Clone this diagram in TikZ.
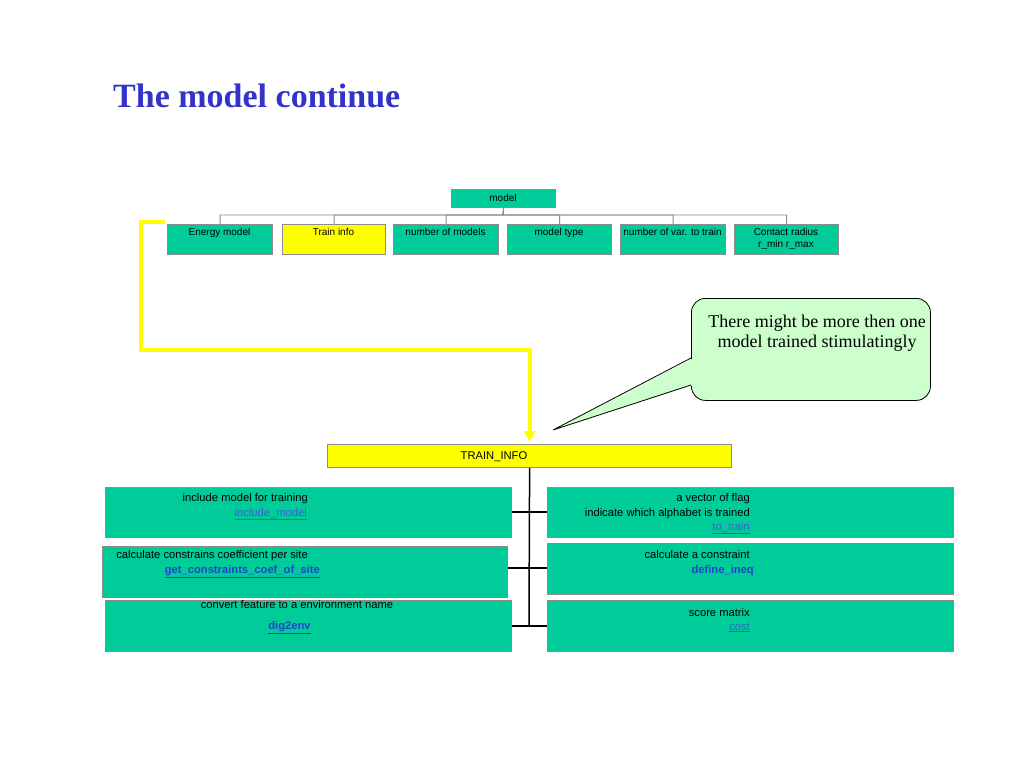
\documentclass[tikz,border=0pt]{standalone}
\usepackage{fontspec}
\setmainfont{Liberation Serif}
\setsansfont{Liberation Sans}
\usetikzlibrary{arrows.meta}
\definecolor{boxgreen}{HTML}{00CC99}
\definecolor{boxgray}{HTML}{8C8C8C}
\definecolor{titleblue}{HTML}{3333CC}
\definecolor{linkblue}{HTML}{3366CC}
\definecolor{boldblue}{HTML}{2244CC}
\definecolor{calloutgreen}{HTML}{CCFFCC}
\definecolor{hlyellow}{HTML}{FFFF00}
\begin{document}
\begin{tikzpicture}[x=1pt,y=-1pt,
  box/.style={draw=boxgray, line width=1.2pt, fill=boxgreen, anchor=north west, inner sep=0pt},
  ybox/.style={box, fill=hlyellow},
  small/.style={font=\sffamily\fontsize{10}{12}\selectfont, inner sep=0pt},
  txt/.style={font=\sffamily\fontsize{11.2}{13}\selectfont, inner sep=0pt},
  link/.style={txt, text=linkblue},
  blink/.style={txt, text=boldblue, font=\sffamily\bfseries\fontsize{11.2}{13}\selectfont},
  ctext/.style={anchor=base, inner sep=0pt, font=\fontsize{18}{20}\selectfont},
  tree/.style={draw=boxgray, line width=0.8pt},
  branch/.style={draw=black, line width=1.5pt},
  hl/.style={draw=hlyellow, line width=4pt},
]
\useasboundingbox (0,0) rectangle (1024,768);
\fill[white] (0,0) rectangle (1024,768);

% title
\node[anchor=base west, inner sep=0pt, text=titleblue,
      font=\bfseries\fontsize{34}{38}\selectfont] (title) at (113,107) {The model continue};

% top tree
\node[box, minimum width=104pt, minimum height=18pt] (model) at (451,189) {};
\node[small, anchor=base] (modelt) at (503,201.5) {model};

\node[box,  minimum width=105pt, minimum height=30pt] (c1) at (167,224) {};
\node[ybox, minimum width=103pt, minimum height=30pt] (c2) at (282,224) {};
\node[box,  minimum width=105pt, minimum height=30pt] (c3) at (393,224) {};
\node[box,  minimum width=104pt, minimum height=30pt] (c4) at (507,224) {};
\node[box,  minimum width=105pt, minimum height=30pt] (c5) at (620,224) {};
\node[box,  minimum width=104pt, minimum height=30pt] (c6) at (734,224) {};

\node[small, anchor=base] (c1t) at (219.5,235.5) {Energy model};
\node[small, anchor=base] (c2t) at (333.5,235.5) {Train info};
\node[small, anchor=base] (c3t) at (445.5,235.5) {number of models};
\node[small, anchor=base] (c4t) at (559,235.5) {model type};
\node[small, anchor=base] (c5t) at (672.5,235.5) {number of var. to train};
\node[small, anchor=base] (c6t) at (786,235.5) {Contact radius};
\node[small, anchor=base] (c6u) at (786,247.5) {r\_min r\_max};

\coordinate (bus) at (503,215);
\foreach \c in {c1,c2,c3,c4,c5,c6}{
  \draw[tree] (model.south) -- (bus) -| (\c.north);
}

% TRAIN_INFO
\node[ybox, minimum width=404pt, minimum height=23pt] (ti) at (327,444) {};
\node[txt, anchor=base] (tit) at (494,459) {TRAIN\_INFO};

% yellow connector
\coordinate (ys) at (165,222);
\coordinate (yc1) at (141,222);
\coordinate (yc2) at (141,350);
\draw[hl, -{Triangle[length=11pt,width=11pt]}, shorten >=2pt] (ys) -- (yc1) -- (yc2) -| (ti.north);

% left boxes
\node[box, minimum width=406pt, minimum height=50pt] (l1) at (105,487) {};
\node[box, minimum width=405pt, minimum height=51pt] (l2) at (102,546) {};
\node[box, minimum width=406pt, minimum height=51pt] (l3) at (105,600) {};
% right boxes
\node[box, minimum width=406pt, minimum height=50pt] (r1) at (547,487) {};
\node[box, minimum width=406pt, minimum height=51pt] (r2) at (547,543) {};
\node[box, minimum width=406pt, minimum height=51pt] (r3) at (547,600) {};

% branches
\coordinate (j1) at (529,512);
\coordinate (j2) at (529,568);
\coordinate (j3) at (529,626);
\draw[branch] (ti.south) -- (j3);
\draw[branch] (l1.east |- j1) -- (r1.west |- j1);
\draw[branch] (l2.east |- j2) -- (r2.west |- j2);
\draw[branch] (l3.east |- j3) -- (r3.west |- j3);

% left texts
\node[txt, anchor=base east] (l1a) at (308,501) {include model for training};
\node[link, anchor=base east] (l1b) at (307,516) {\underline{include\_model}};
\node[txt, anchor=base east] (l2a) at (308,558) {calculate constrains coefficient per site};
\node[blink, anchor=base east] (l2b) at (320,573) {\underline{get\_constraints\_coef\_of\_site}};
\node[txt, anchor=base] (l3a) at (297,608) {convert feature to a environment name};
\node[blink, anchor=base] (l3b) at (289.5,629) {\underline{dig2env}};

% right texts
\node[txt, anchor=base east] (r1a) at (750,501) {a vector of flag};
\node[txt, anchor=base east] (r1b) at (750,516) {indicate which alphabet is trained};
\node[link, anchor=base east] (r1c) at (750,530) {\underline{to\_train}};
\node[txt, anchor=base east] (r2a) at (750,558) {calculate a constraint};
\node[blink, anchor=base east] (r2b) at (754,573) {define\_ineq};
\node[txt, anchor=base east] (r3a) at (750,616) {score matrix};
\node[link, anchor=base east] (r3b) at (750,630) {\underline{cost}};

% callout
\node[draw=black, line width=0.8pt, fill=calloutgreen, rounded corners=14pt,
      anchor=north west, minimum width=239pt, minimum height=102pt, inner sep=0pt] (call) at (691,298) {};
\coordinate (tip) at (553,430);
\coordinate (p1) at (691,358);
\coordinate (p2) at (691,385);
\fill[calloutgreen] (tip) -- ([xshift=3pt]p1) -- ([xshift=3pt]p2) -- cycle;
\draw[black, line width=0.8pt, line join=miter] (p1) -- (tip) -- (p2);
\node[ctext] (callt1) at (817,327) {There might be more then one};
\node[ctext] (callt2) at (817,347) {model trained stimulatingly};
\end{tikzpicture}
\end{document}
